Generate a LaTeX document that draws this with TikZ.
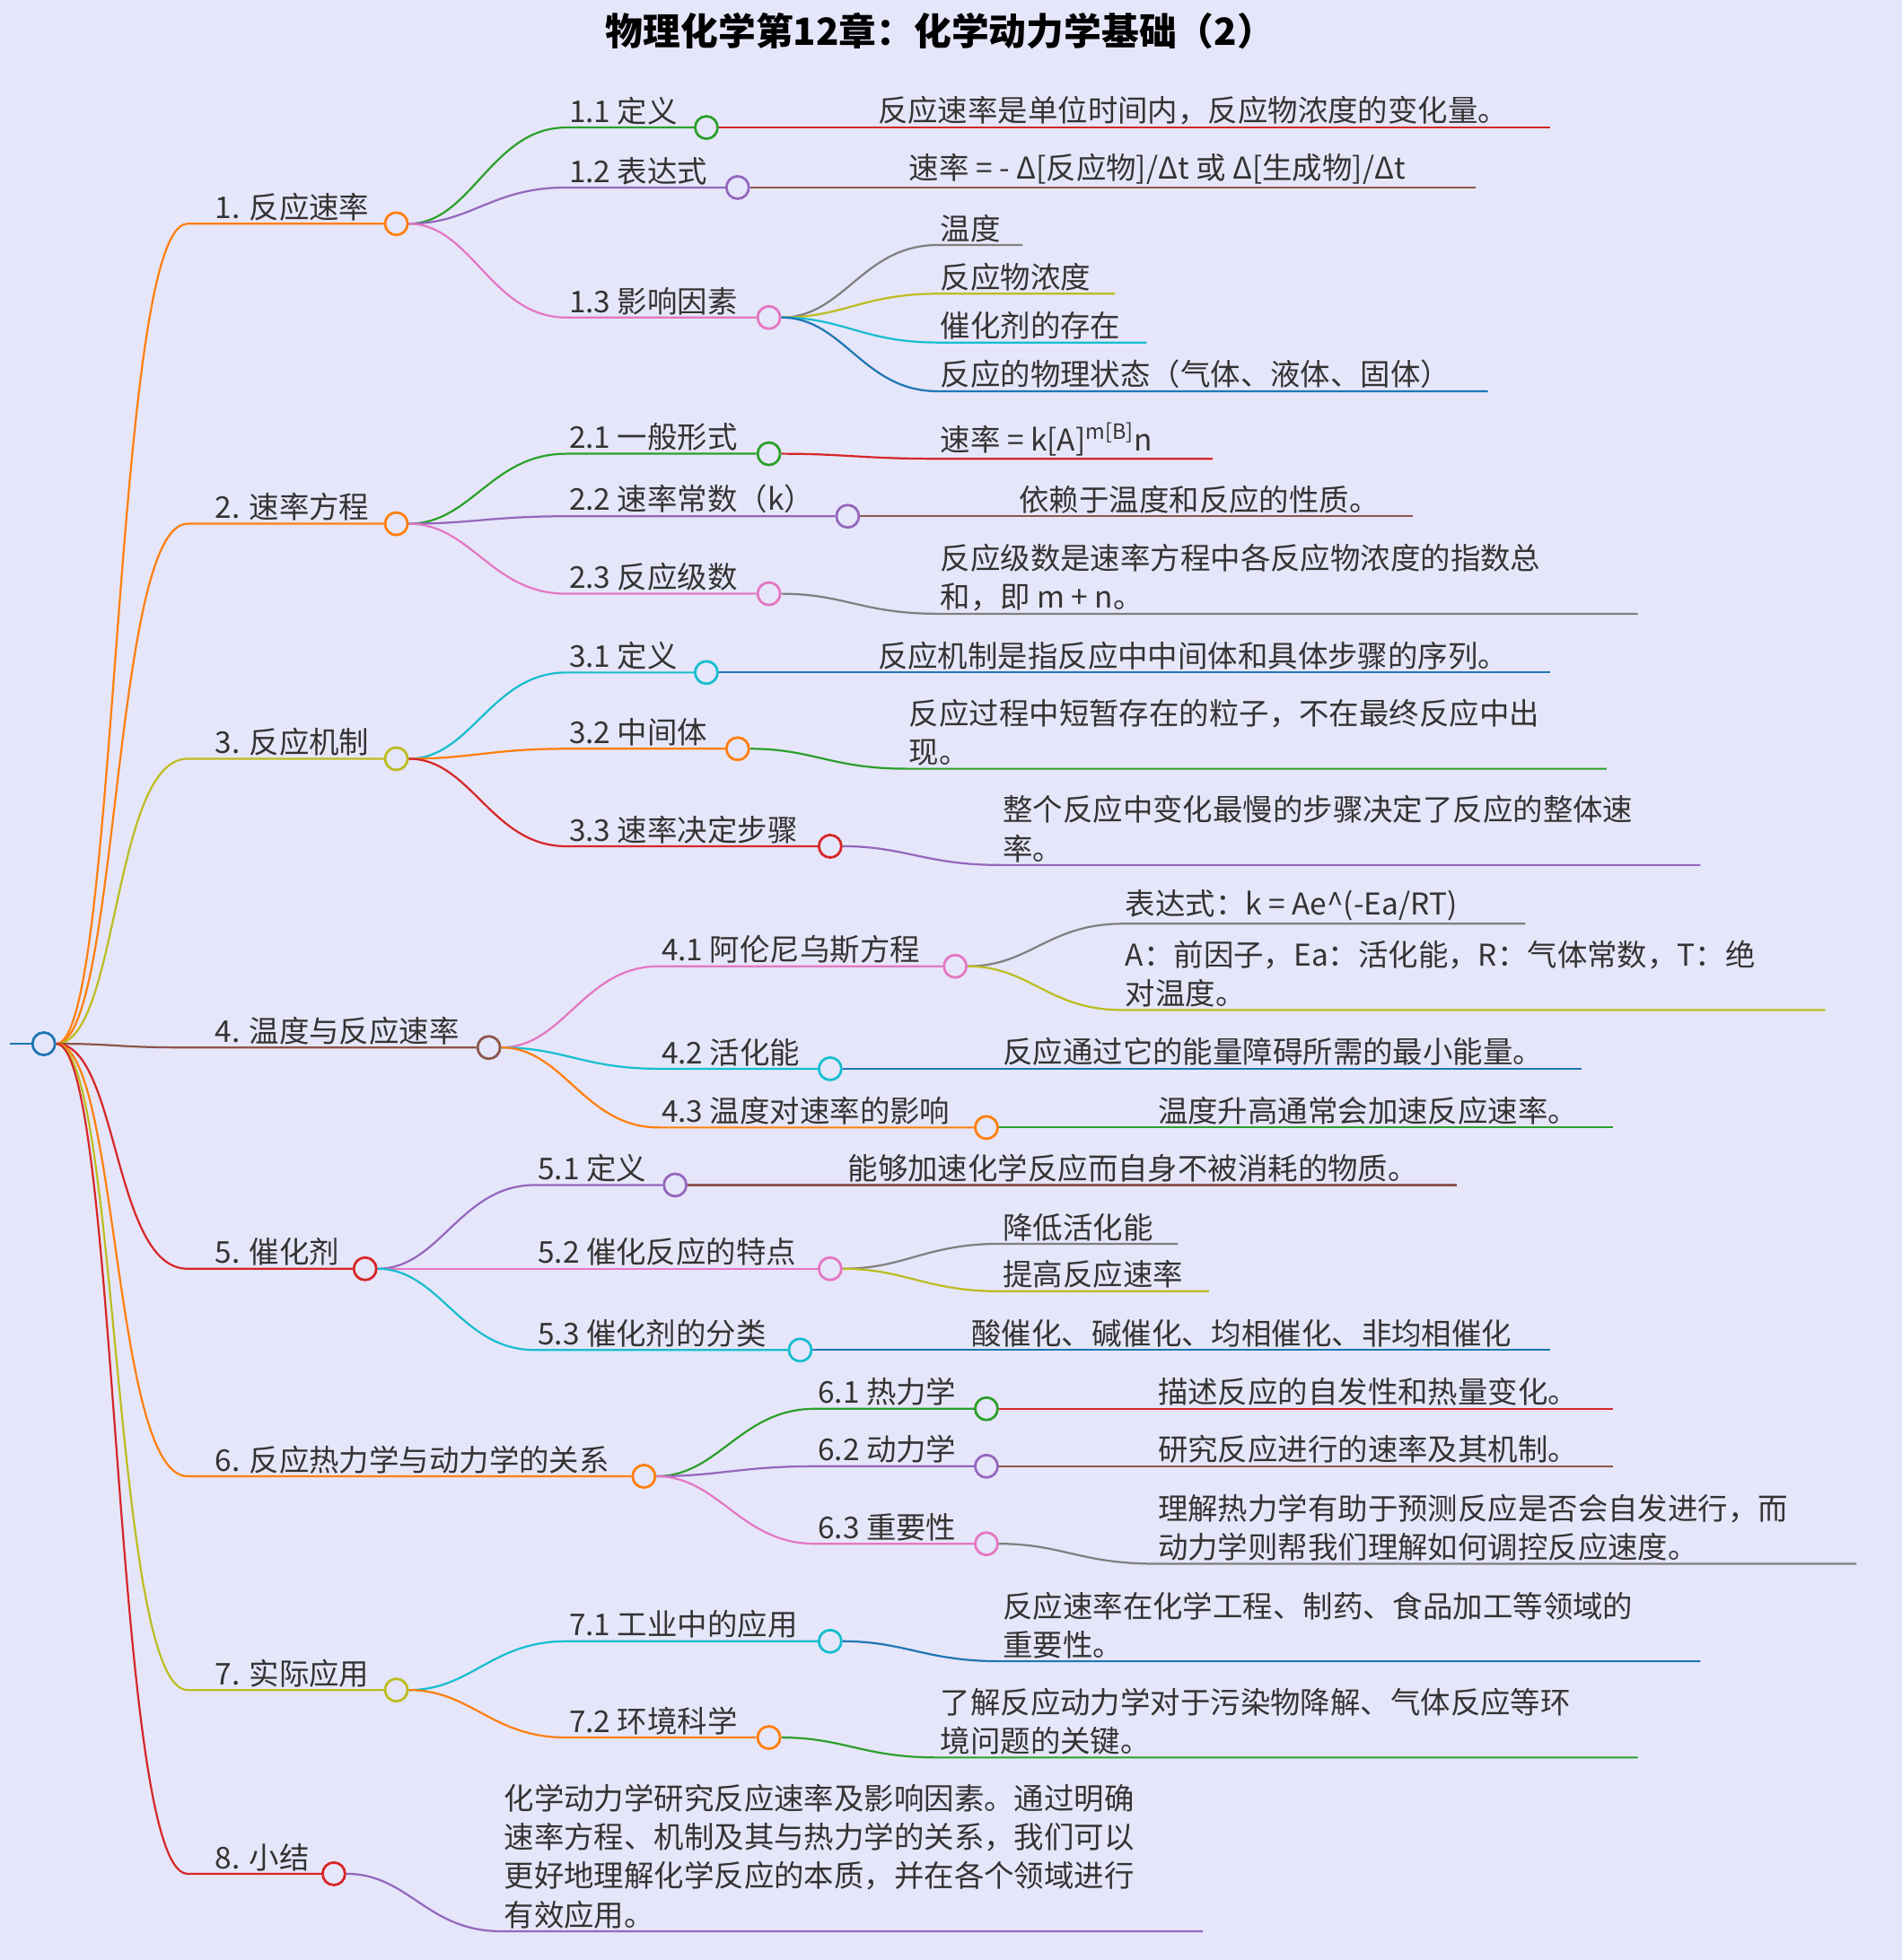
\documentclass[tikz,border=0pt]{standalone}
\usepackage{fontspec}
\setmainfont{Noto Sans CJK SC}
\usetikzlibrary{calc}
\definecolor{bgc}{HTML}{E6E6FA}
\definecolor{txt}{HTML}{333333}
\definecolor{cO}{HTML}{FF7F0E}
\definecolor{cG}{HTML}{2CA02C}
\definecolor{cP}{HTML}{9467BD}
\definecolor{cK}{HTML}{E377C2}
\definecolor{cY}{HTML}{7F7F7F}
\definecolor{cL}{HTML}{BCBD22}
\definecolor{cC}{HTML}{17BECF}
\definecolor{cB}{HTML}{1F77B4}
\definecolor{cR}{HTML}{D62728}
\definecolor{cN}{HTML}{8C564B}
\pgfdeclarelayer{back}
\pgfdeclarelayer{bg}
\pgfsetlayers{back,bg,main}
\tikzset{
  dot/.style={circle, draw=#1, fill=bgc, line width=2pt, minimum size=18pt, inner sep=0pt},
  lbl/.style={anchor=south west, inner sep=2pt, text=txt, align=left,
    font=\fontsize{24}{31}\selectfont},
  wire/.style={draw=#1, line width=1.6pt}
}
% topic on its line, with a circle at the end
\newcommand\mmnode[8]{
  \coordinate (#1-s) at (#4,#6);
  \node[dot=#2] (#1) at (#5,#6) {};
  \node[lbl] (#1-t) at (#8,#6) {#7};
  \begin{pgfonlayer}{bg}
    \draw[wire=#2] (#3) .. controls ($(#3)+(60,0)$) and ($(#1-s)+(-60,0)$) .. (#1-s) -- (#1);
  \end{pgfonlayer}
}
% leaf text with its underline
\newcommand\mmleaf[7]{
  \coordinate (#1-s) at (#4,#6);
  \coordinate (#1-e) at (#5,#6);
  \node[lbl] (#1-t) at (#1-s) {#7};
  \begin{pgfonlayer}{bg}
    \draw[wire=#2] (#3) .. controls ($(#3)+(60,0)$) and ($(#1-s)+(-60,0)$) .. (#1-s) -- (#1-e);
  \end{pgfonlayer}
}
\begin{document}
\begin{tikzpicture}[x=1pt,y=-1pt]
\begin{pgfonlayer}{back}
\fill[bgc] (0,0) rectangle (1521,1568);
\end{pgfonlayer}
\useasboundingbox (0,0) rectangle (1521,1568);
\node[font=\fontsize{30}{34}\selectfont\bfseries, text=black] (title) at (752,25)
  {物理化学第12章：化学动力学基础（2）};

\coordinate (stub) at (8,835);
\node[dot=cB] (root) at (35,835) {};
\begin{pgfonlayer}{bg}\draw[wire=cB] (stub) -- (root);\end{pgfonlayer}

% 1
\mmnode{b1}{cO}{root}{150}{317}{179}{1. 反应速率}{170}
\mmnode{b11}{cG}{b1}{453}{565}{102}{1.1 定义}{453}
\mmleaf{l11}{cR}{b11}{700}{1240}{102}{反应速率是单位时间内，反应物浓度的变化量。}
\mmnode{b12}{cP}{b1}{453}{590}{150}{1.2 表达式}{453}
\mmleaf{l12}{cN}{b12}{725}{1180}{150}{速率 = - Δ[反应物]/Δt 或 Δ[生成物]/Δt}
\mmnode{b13}{cK}{b1}{453}{615}{254}{1.3 影响因素}{453}
\mmleaf{l131}{cY}{b13}{750}{818}{196}{温度}
\mmleaf{l132}{cL}{b13}{750}{892}{235}{反应物浓度}
\mmleaf{l133}{cC}{b13}{750}{917}{274}{催化剂的存在}
\mmleaf{l134}{cB}{b13}{750}{1190}{313}{反应的物理状态（气体、液体、固体）}

% 2
\mmnode{b2}{cO}{root}{150}{317}{419}{2. 速率方程}{170}
\mmnode{b21}{cG}{b2}{453}{615}{363}{2.1 一般形式}{453}
\mmleaf{l21}{cR}{b21}{750}{970}{367}{速率 = k[A]\textsuperscript{m[B]}n}
\mmnode{b22}{cP}{b2}{453}{678}{413}{2.2 速率常数（k）}{453}
\mmleaf{l22}{cN}{b22}{813}{1130}{413}{依赖于温度和反应的性质。}
\mmnode{b23}{cK}{b2}{453}{615}{475}{2.3 反应级数}{453}
\mmleaf{l23}{cY}{b23}{750}{1310}{491}{反应级数是速率方程中各反应物浓度的指数总\\和，即 m + n。}

% 3
\mmnode{b3}{cL}{root}{150}{317}{607}{3. 反应机制}{170}
\mmnode{b31}{cC}{b3}{453}{565}{538}{3.1 定义}{453}
\mmleaf{l31}{cB}{b31}{700}{1240}{538}{反应机制是指反应中中间体和具体步骤的序列。}
\mmnode{b32}{cO}{b3}{453}{590}{599}{3.2 中间体}{453}
\mmleaf{l32}{cG}{b32}{725}{1285}{615}{反应过程中短暂存在的粒子，不在最终反应中出\\现。}
\mmnode{b33}{cR}{b3}{453}{664}{677}{3.3 速率决定步骤}{453}
\mmleaf{l33}{cP}{b33}{800}{1360}{692}{整个反应中变化最慢的步骤决定了反应的整体速\\率。}

% 4
\mmnode{b4}{cN}{root}{150}{391}{838}{4. 温度与反应速率}{170}
\mmnode{b41}{cK}{b4}{527}{764}{773}{4.1 阿伦尼乌斯方程}{527}
\mmleaf{l411}{cY}{b41}{898}{1220}{739}{表达式：k = Ae\^{}(-Ea/RT)}
\mmleaf{l412}{cL}{b41}{898}{1460}{808}{A：前因子，Ea：活化能，R：气体常数，T：绝\\对温度。}
\mmnode{b42}{cC}{b4}{527}{664}{855}{4.2 活化能}{527}
\mmleaf{l42}{cB}{b42}{800}{1265}{855}{反应通过它的能量障碍所需的最小能量。}
\mmnode{b43}{cO}{b4}{527}{789}{902}{4.3 温度对速率的影响}{527}
\mmleaf{l43}{cG}{b43}{924}{1290}{902}{温度升高通常会加速反应速率。}

% 5
\mmnode{b5}{cR}{root}{150}{292}{1015}{5. 催化剂}{170}
\mmnode{b51}{cP}{b5}{428}{540}{948}{5.1 定义}{428}
\mmleaf{l51}{cN}{b51}{676}{1165}{948}{能够加速化学反应而自身不被消耗的物质。}
\mmnode{b52}{cK}{b5}{428}{664}{1015}{5.2 催化反应的特点}{428}
\mmleaf{l521}{cY}{b52}{800}{942}{995}{降低活化能}
\mmleaf{l522}{cL}{b52}{800}{967}{1033}{提高反应速率}
\mmnode{b53}{cC}{b5}{428}{640}{1080}{5.3 催化剂的分类}{428}
\mmleaf{l53}{cB}{b53}{775}{1240}{1080}{酸催化、碱催化、均相催化、非均相催化}

% 6
\mmnode{b6}{cO}{root}{150}{515}{1181}{6. 反应热力学与动力学的关系}{170}
\mmnode{b61}{cG}{b6}{652}{789}{1127}{6.1 热力学}{652}
\mmleaf{l61}{cR}{b61}{924}{1290}{1127}{描述反应的自发性和热量变化。}
\mmnode{b62}{cP}{b6}{652}{789}{1173}{6.2 动力学}{652}
\mmleaf{l62}{cN}{b62}{924}{1290}{1173}{研究反应进行的速率及其机制。}
\mmnode{b63}{cK}{b6}{652}{789}{1235}{6.3 重要性}{652}
\mmleaf{l63}{cY}{b63}{924}{1485}{1251}{理解热力学有助于预测反应是否会自发进行，而\\动力学则帮我们理解如何调控反应速度。}

% 7
\mmnode{b7}{cL}{root}{150}{317}{1352}{7. 实际应用}{170}
\mmnode{b71}{cC}{b7}{453}{664}{1313}{7.1 工业中的应用}{453}
\mmleaf{l71}{cB}{b71}{800}{1360}{1329}{反应速率在化学工程、制药、食品加工等领域的\\重要性。}
\mmnode{b72}{cO}{b7}{453}{615}{1390}{7.2 环境科学}{453}
\mmleaf{l72}{cG}{b72}{750}{1310}{1406}{了解反应动力学对于污染物降解、气体反应等环\\境问题的关键。}

% 8
\mmnode{b8}{cR}{root}{150}{267}{1499}{8. 小结}{170}
\mmleaf{l8}{cP}{b8}{401}{962}{1545}{化学动力学研究反应速率及影响因素。通过明确\\速率方程、机制及其与热力学的关系，我们可以\\更好地理解化学反应的本质，并在各个领域进行\\有效应用。}
\end{tikzpicture}
\end{document}
